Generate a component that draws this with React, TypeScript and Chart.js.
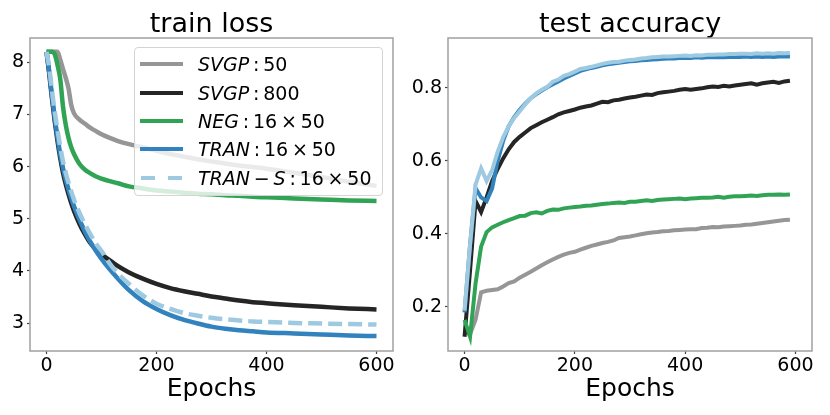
import { useEffect, useRef, type CSSProperties, type ReactNode } from 'react';
import { Chart, registerables, type ChartConfiguration, type Plugin } from 'chart.js';

Chart.register(...registerables);

// ---- train loss (left panel) ----
const LOSS_EPOCHS = [0, 5, 10, 15, 20, 25, 30, 35, 40, 45, 50, 60, 70, 80, 90, 100, 115, 130, 150, 175, 200, 225, 250, 275, 300, 325, 350, 375, 400, 450, 500, 550, 600];
const LOSS_SVGP_50 = [8.2, 8.2, 8.2, 8.2, 8.2, 8.05, 7.87, 7.7, 7.5, 7.18, 7.02, 6.9, 6.82, 6.74, 6.68, 6.62, 6.55, 6.49, 6.43, 6.37, 6.3, 6.24, 6.19, 6.14, 6.1, 6.06, 6.02, 5.99, 5.96, 5.88, 5.8, 5.71, 5.63];
const LOSS_SVGP_800 = [8.2, 7.78, 7.3, 6.87, 6.49, 6.16, 5.88, 5.66, 5.47, 5.3, 5.15, 4.9, 4.7, 4.53, 4.41, 4.32, 4.2, 4.09, 3.97, 3.85, 3.75, 3.67, 3.61, 3.56, 3.51, 3.47, 3.43, 3.4, 3.38, 3.34, 3.31, 3.28, 3.26];
const LOSS_NEG = [8.2, 8.2, 8.2, 8.15, 7.95, 7.68, 7.15, 6.8, 6.55, 6.37, 6.24, 6.05, 5.94, 5.87, 5.81, 5.77, 5.72, 5.68, 5.62, 5.58, 5.54, 5.52, 5.5, 5.48, 5.47, 5.45, 5.44, 5.42, 5.41, 5.39, 5.37, 5.35, 5.34];
const LOSS_TRAN = [8.2, 7.82, 7.35, 6.93, 6.56, 6.24, 5.97, 5.75, 5.56, 5.39, 5.24, 4.98, 4.75, 4.55, 4.38, 4.23, 4.03, 3.85, 3.63, 3.42, 3.27, 3.15, 3.06, 2.99, 2.93, 2.89, 2.86, 2.84, 2.82, 2.8, 2.78, 2.76, 2.75];
const LOSS_TRAN_S = [8.2, 7.9, 7.45, 7.05, 6.7, 6.38, 6.1, 5.88, 5.69, 5.52, 5.37, 5.11, 4.89, 4.7, 4.52, 4.38, 4.14, 3.95, 3.75, 3.53, 3.37, 3.27, 3.19, 3.14, 3.1, 3.07, 3.05, 3.03, 3.02, 3.0, 2.99, 2.98, 2.97];

// ---- test accuracy (right panel) ----
const ACC_EPOCHS = [0, 10, 20, 30, 40, 50, 60, 70, 80, 90, 100, 110, 120, 130, 140, 150, 160, 170, 180, 190, 200, 210, 220, 230, 240, 250, 260, 270, 280, 290, 300, 310, 320, 330, 340, 350, 360, 370, 380, 390, 400, 410, 420, 430, 440, 450, 460, 470, 480, 490, 500, 510, 520, 530, 540, 550, 560, 570, 580, 590];
const ACC_SVGP_50 = [0.13, 0.125, 0.165, 0.24, 0.244, 0.246, 0.248, 0.256, 0.265, 0.27, 0.28, 0.288, 0.296, 0.305, 0.314, 0.322, 0.33, 0.337, 0.343, 0.348, 0.351, 0.357, 0.362, 0.367, 0.371, 0.375, 0.378, 0.382, 0.389, 0.391, 0.393, 0.396, 0.399, 0.402, 0.404, 0.405, 0.407, 0.408, 0.41, 0.411, 0.412, 0.413, 0.413, 0.416, 0.417, 0.419, 0.418, 0.42, 0.421, 0.422, 0.423, 0.425, 0.426, 0.428, 0.43, 0.432, 0.434, 0.436, 0.438, 0.439];
const ACC_SVGP_800 = [0.118, 0.3, 0.49, 0.46, 0.5, 0.545, 0.578, 0.607, 0.632, 0.652, 0.666, 0.678, 0.69, 0.698, 0.706, 0.713, 0.72, 0.728, 0.733, 0.737, 0.741, 0.746, 0.749, 0.752, 0.757, 0.762, 0.761, 0.766, 0.768, 0.771, 0.774, 0.776, 0.779, 0.782, 0.781, 0.786, 0.788, 0.79, 0.792, 0.795, 0.797, 0.795, 0.797, 0.799, 0.802, 0.804, 0.803, 0.806, 0.804, 0.807, 0.809, 0.811, 0.813, 0.809, 0.813, 0.815, 0.817, 0.814, 0.818, 0.82];
const ACC_NEG = [0.164, 0.118, 0.265, 0.365, 0.405, 0.418, 0.425, 0.432, 0.438, 0.443, 0.449, 0.45, 0.457, 0.459, 0.456, 0.463, 0.467, 0.466, 0.47, 0.472, 0.474, 0.475, 0.477, 0.478, 0.48, 0.482, 0.483, 0.485, 0.486, 0.485, 0.488, 0.488, 0.49, 0.492, 0.49, 0.493, 0.494, 0.495, 0.496, 0.497, 0.495, 0.497, 0.498, 0.499, 0.499, 0.5, 0.502, 0.499, 0.502, 0.503, 0.503, 0.504, 0.505, 0.504, 0.506, 0.507, 0.507, 0.508, 0.507, 0.508];
const ACC_TRAN = [0.185, 0.37, 0.525, 0.5, 0.49, 0.525, 0.6, 0.655, 0.695, 0.72, 0.74, 0.757, 0.772, 0.783, 0.793, 0.802, 0.81, 0.818, 0.826, 0.833, 0.84, 0.847, 0.851, 0.855, 0.858, 0.862, 0.865, 0.867, 0.869, 0.871, 0.873, 0.874, 0.876, 0.877, 0.878, 0.879, 0.88, 0.881, 0.881, 0.882, 0.883, 0.882, 0.884, 0.883, 0.884, 0.884, 0.885, 0.884, 0.885, 0.885, 0.885, 0.886, 0.885, 0.886, 0.885, 0.886, 0.885, 0.886, 0.886, 0.886];
const ACC_TRAN_S = [0.19, 0.37, 0.535, 0.58, 0.545, 0.575, 0.625, 0.665, 0.695, 0.718, 0.736, 0.755, 0.772, 0.785, 0.795, 0.803, 0.817, 0.823, 0.833, 0.838, 0.845, 0.852, 0.855, 0.858, 0.862, 0.866, 0.869, 0.871, 0.872, 0.875, 0.877, 0.878, 0.881, 0.882, 0.884, 0.885, 0.886, 0.886, 0.887, 0.888, 0.889, 0.888, 0.89, 0.889, 0.891, 0.891, 0.892, 0.892, 0.893, 0.893, 0.894, 0.894, 0.893, 0.895, 0.894, 0.895, 0.894, 0.896, 0.895, 0.896];

const EPOCH_TICKS = [0, 200, 400, 600];
const LOSS_TICKS = [3, 4, 5, 6, 7, 8];
const ACC_TICKS = [0.2, 0.4, 0.6, 0.8];

const FONT = '"DejaVu Sans", sans-serif';
const SPINE = '#a0a0a0';
const TICK = '#444';

const GREY = '#969696';
const BLACK = '#252525';
const GREEN = '#31a354';
const BLUE = '#3182bd';
const LIGHT_BLUE = '#9ecae1';

const COLORS = [GREY, BLACK, GREEN, BLUE, LIGHT_BLUE];

// box around the plot area, like matplotlib spines
const framePlugin: Plugin = {
  id: 'frame',
  afterDraw(chart) {
    const { ctx, chartArea: { left, top, right, bottom } } = chart;
    ctx.save();
    ctx.strokeStyle = SPINE;
    ctx.lineWidth = 1.5;
    ctx.strokeRect(left, top, right - left, bottom - top);
    ctx.restore();
  },
};

interface PanelOpts {
  title: string;
  xs: number[];
  series: number[][];
  dashes: number[][];
  lineWidth: number;
  yMin: number;
  yMax: number;
  yTicks: number[];
  yWidth: number;
  padRight: number;
  fmt: (v: number) => string;
  tension: number;
}

function makeConfig(o: PanelOpts): ChartConfiguration<'line'> {
  const datasets = o.series.map((vals, i) => ({
    label: String(i),
    data: o.xs.map((x, j) => ({ x, y: vals[j] })),
    borderColor: COLORS[i],
    backgroundColor: COLORS[i],
    borderWidth: o.lineWidth,
    borderDash: o.dashes[i],
    pointRadius: 0,
    fill: false,
    tension: o.tension,
    cubicInterpolationMode: o.tension > 0 ? ('monotone' as const) : ('default' as const),
    order: o.series.length - i,
  }));

  return {
    type: 'line',
    data: { datasets },
    options: {
      animation: false,
      responsive: true,
      maintainAspectRatio: false,
      layout: { padding: { left: 0, right: o.padRight, top: 0, bottom: 0 } },
      plugins: {
        legend: { display: false },
        tooltip: { enabled: false },
        title: {
          display: true,
          text: o.title,
          fullSize: false,
          color: '#000',
          font: { family: FONT, size: 27, weight: 'normal', lineHeight: 1 },
          padding: { top: 11, bottom: 0 },
        },
      },
      scales: {
        x: {
          type: 'linear',
          min: -30,
          max: 630,
          afterBuildTicks: (s) => { s.ticks = EPOCH_TICKS.map((v) => ({ value: v })); },
          afterFit: (s) => { s.height = 64; },
          grid: { drawOnChartArea: false, tickLength: 3, tickColor: TICK, tickWidth: 1.2 },
          border: { display: false },
          ticks: {
            color: '#000',
            font: { family: FONT, size: 19 },
            padding: 1,
            maxRotation: 0,
            autoSkip: false,
            callback: (v) => String(v),
          },
          title: {
            display: true,
            text: 'Epochs',
            color: '#000',
            font: { family: FONT, size: 25, lineHeight: 1 },
            padding: { top: 0, bottom: 13 },
          },
        },
        y: {
          type: 'linear',
          min: o.yMin,
          max: o.yMax,
          afterBuildTicks: (s) => { s.ticks = o.yTicks.map((v) => ({ value: v })); },
          afterFit: (s) => { s.width = o.yWidth; },
          grid: { drawOnChartArea: false, tickLength: 3, tickColor: TICK, tickWidth: 1.2 },
          border: { display: false },
          ticks: {
            color: '#000',
            font: { family: FONT, size: 19 },
            padding: 3,
            autoSkip: false,
            callback: (v) => o.fmt(Number(v)),
          },
        },
      },
    },
    plugins: [framePlugin],
  };
}

function Panel({ opts, style }: { opts: PanelOpts; style: CSSProperties }) {
  const canvasRef = useRef<HTMLCanvasElement>(null);

  useEffect(() => {
    if (!canvasRef.current) return;
    const chart = new Chart(canvasRef.current, makeConfig(opts));
    return () => { chart.destroy(); };
  }, []);

  return (
    <div style={{ position: 'absolute', ...style }}>
      <canvas ref={canvasRef} />
    </div>
  );
}

const TS = '\u2009';

const LEGEND_ROWS: { color: string; dashed: boolean; label: ReactNode }[] = [
  { color: GREY, dashed: false, label: <><i>SVGP</i>{TS}:{TS}50</> },
  { color: BLACK, dashed: false, label: <><i>SVGP</i>{TS}:{TS}800</> },
  { color: GREEN, dashed: false, label: <><i>NEG</i>{TS}:{TS}16{TS}×{TS}50</> },
  { color: BLUE, dashed: false, label: <><i>TRAN</i>{TS}:{TS}16{TS}×{TS}50</> },
  { color: LIGHT_BLUE, dashed: true, label: <><i>TRAN</i>{TS}−{TS}<i>S</i>{TS}:{TS}16{TS}×{TS}50</> },
];

function Legend() {
  return (
    <div
      style={{
        position: 'absolute',
        left: 134,
        top: 47,
        width: 249,
        height: 149,
        boxSizing: 'border-box',
        border: '1px solid #d4d4d4',
        borderRadius: 4,
        background: 'rgba(255,255,255,0.8)',
        fontFamily: FONT,
        fontSize: 19,
        color: '#000',
      }}
    >
      {LEGEND_ROWS.map((row, i) => (
        <div
          key={i}
          style={{
            position: 'absolute',
            left: 0,
            top: 16.3 + i * 28.35 - 14,
            height: 28,
            display: 'flex',
            alignItems: 'center',
            whiteSpace: 'nowrap',
          }}
        >
          <svg width={43} height={8} style={{ marginLeft: 5, marginRight: 15 }}>
            <line
              x1={0}
              y1={4}
              x2={43}
              y2={4}
              stroke={row.color}
              strokeWidth={4}
              strokeDasharray={row.dashed ? '14 13' : undefined}
              style={row.dashed ? { strokeDashoffset: -1 } : undefined}
            />
          </svg>
          <span style={{ lineHeight: '28px' }}>{row.label}</span>
        </div>
      ))}
    </div>
  );
}

export default function App() {
  const lossOpts: PanelOpts = {
    title: 'train loss',
    xs: LOSS_EPOCHS,
    series: [LOSS_SVGP_50, LOSS_SVGP_800, LOSS_NEG, LOSS_TRAN, LOSS_TRAN_S],
    dashes: [[], [], [], [], [14, 6]],
    lineWidth: 4.5,
    yMin: 2.463,
    yMax: 8.466,
    yTicks: LOSS_TICKS,
    yWidth: 30,
    padRight: 22,
    fmt: (v) => String(v),
    tension: 0.4,
  };
  const accOpts: PanelOpts = {
    title: 'test accuracy',
    xs: ACC_EPOCHS,
    series: [ACC_SVGP_50, ACC_SVGP_800, ACC_NEG, ACC_TRAN, ACC_TRAN_S],
    dashes: [[], [], [], [], []],
    lineWidth: 4,
    yMin: 0.079,
    yMax: 0.937,
    yTicks: ACC_TICKS,
    yWidth: 58,
    padRight: 18,
    fmt: (v) => v.toFixed(1),
    tension: 0,
  };

  return (
    <div style={{ position: 'absolute', left: 0, top: 0, width: 830, height: 415, background: '#fff', overflow: 'hidden' }}>
      <Panel opts={lossOpts} style={{ left: 0, top: 0, width: 415, height: 415 }} />
      <Panel opts={accOpts} style={{ left: 390, top: 0, width: 440, height: 415 }} />
      <Legend />
    </div>
  );
}
